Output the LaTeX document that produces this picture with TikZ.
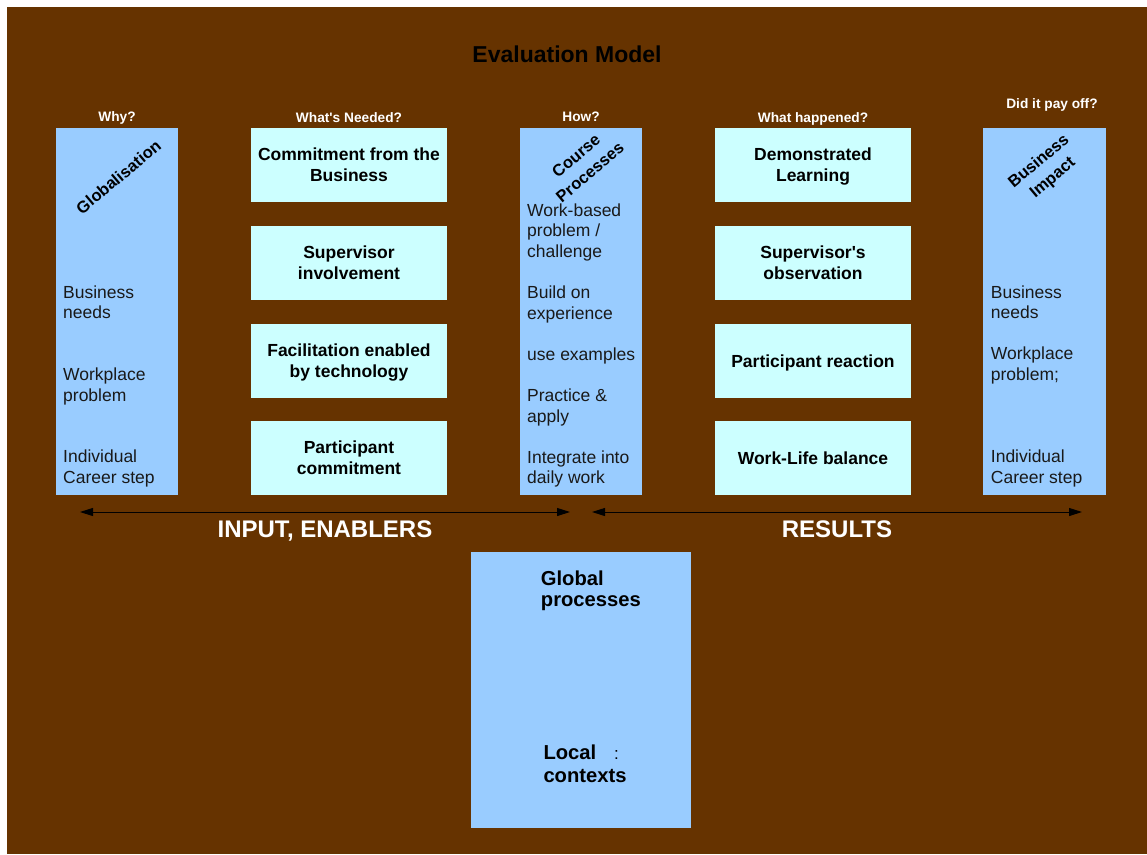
\documentclass[tikz,border=0pt]{standalone}
\usepackage{fontspec}
\setmainfont{Liberation Sans}
\usetikzlibrary{arrows.meta}
\definecolor{brownbg}{HTML}{663300}
\definecolor{colblue}{HTML}{99CCFF}
\definecolor{boxcyan}{HTML}{CCFFFF}
\begin{document}
\begin{tikzpicture}[x=1pt,y=-1pt,
  colbox/.style={fill=colblue,draw=none,inner sep=0,minimum width=122,minimum height=367,anchor=north west},
  cbox/.style={fill=boxcyan,draw=none,inner sep=0,minimum width=196,minimum height=74,align=center,
    text depth=0pt,font=\fontsize{17.5}{21}\selectfont\bfseries,text=black},
  body/.style={inner sep=0,anchor=base west,font=\fontsize{17.5}{20.6}\selectfont,text=black!90},
  rot/.style={inner sep=0,rotate=40,align=center,font=\fontsize{16.5}{21.5}\selectfont\bfseries,text=black},
  head/.style={inner sep=0,anchor=base,font=\fontsize{13.7}{16}\selectfont\bfseries,text=white},
  big/.style={inner sep=0,anchor=base,font=\fontsize{24}{28}\selectfont\bfseries,text=white},
  gtext/.style={inner sep=0,anchor=base west,font=\fontsize{20.2}{24}\selectfont\bfseries,text=black},
  span/.style={{Triangle[length=13pt,width=8pt]}-{Triangle[length=13pt,width=8pt]},line width=1pt,black}
]
\useasboundingbox (0,0) rectangle (1147,854);
\fill[white] (0,0) rectangle (1147,854);
\fill[brownbg] (7,7) rectangle (1147,854);

% title
\node[inner sep=0,anchor=base,font=\fontsize{23}{27}\selectfont\bfseries,text=black] (title) at (567,62) {Evaluation Model};

% headings
\node[head] (h1) at (117,121.7) {Why?};
\node[head] (h2) at (349,122) {What\textquotesingle s Needed?};
\node[head] (h3) at (581,121.5) {How?};
\node[head] (h4) at (813,122) {What happened?};
\node[head] (h5) at (1052,108.3) {Did it pay off?};

% columns
\node[colbox] (why) at (56,128) {};
\node[colbox] (how) at (520,128) {};
\node[colbox,minimum width=123] (pay) at (983,128) {};

\node[rot] (glob) at (118.4,177) {Globalisation};
\node[rot] (course) at (583,164) {Course\\Processes};
\node[rot] (bimp) at (1046,170) {Business\\Impact};

% left column text
\node[body] (l1) at (63,298) {Business};
\node[body] (l2) at (63,318.6) {needs};
\node[body] (l3) at (63,380.4) {Workplace};
\node[body] (l4) at (63,401) {problem};
\node[body] (l5) at (63,462.8) {Individual};
\node[body] (l6) at (63,483.4) {Career step};

% middle column text
\node[body] (m1) at (527,216) {Work-based};
\node[body] (m2) at (527,236.6) {problem /};
\node[body] (m3) at (527,257.2) {challenge};
\node[body] (m4) at (527,298.4) {Build on};
\node[body] (m5) at (527,319) {experience};
\node[body] (m6) at (527,360.2) {use examples};
\node[body] (m7) at (527,401.4) {Practice \&};
\node[body] (m8) at (527,422) {apply};
\node[body] (m9) at (527,463.2) {Integrate into};
\node[body] (m10) at (527,483.8) {daily work};

% right column text
\node[body] (r1) at (990.7,298) {Business};
\node[body] (r2) at (990.7,318.6) {needs};
\node[body] (r3) at (990.7,359.8) {Workplace};
\node[body] (r4) at (990.7,380.4) {problem;};
\node[body] (r5) at (990.7,462.8) {Individual};
\node[body] (r6) at (990.7,483.4) {Career step};

% needed boxes
\node[cbox] (n1) at (349,165) {Commitment from the\\Business};
\node[cbox] (n2) at (349,263) {Supervisor\\involvement};
\node[cbox] (n3) at (349,361) {Facilitation enabled\\by technology};
\node[cbox] (n4) at (349,458) {Participant\\commitment};

% happened boxes
\node[cbox] (p1) at (813,165) {Demonstrated\\Learning};
\node[cbox] (p2) at (813,263) {Supervisor\textquotesingle s\\observation};
\node[cbox] (p3) at (813,361) {Participant reaction};
\node[cbox] (p4) at (813,458) {Work-Life balance};

% arrows
\coordinate (a1) at (80,512);
\coordinate (a2) at (570,512);
\coordinate (a3) at (592,512);
\coordinate (a4) at (1082,512);
\draw[span] (a1) -- (a2);
\draw[span] (a3) -- (a4);
\node[big] (inp) at (325,537) {INPUT, ENABLERS};
\node[big] (res) at (837,537) {RESULTS};

% bottom box
\node[fill=colblue,draw=none,inner sep=0,minimum width=220,minimum height=276,anchor=north west] (gl) at (471,552) {};
\node[gtext] (g1) at (540.7,585.7) {Global};
\node[gtext] (g2) at (540.7,606.7) {processes};
\node[gtext] (g3) at (543.3,759) {Local};
\node[inner sep=0,anchor=base west,font=\fontsize{17}{20}\selectfont,text=black] (g4) at (614,759) {:};
\node[gtext] (g5) at (543.3,782.3) {contexts};
\end{tikzpicture}
\end{document}
